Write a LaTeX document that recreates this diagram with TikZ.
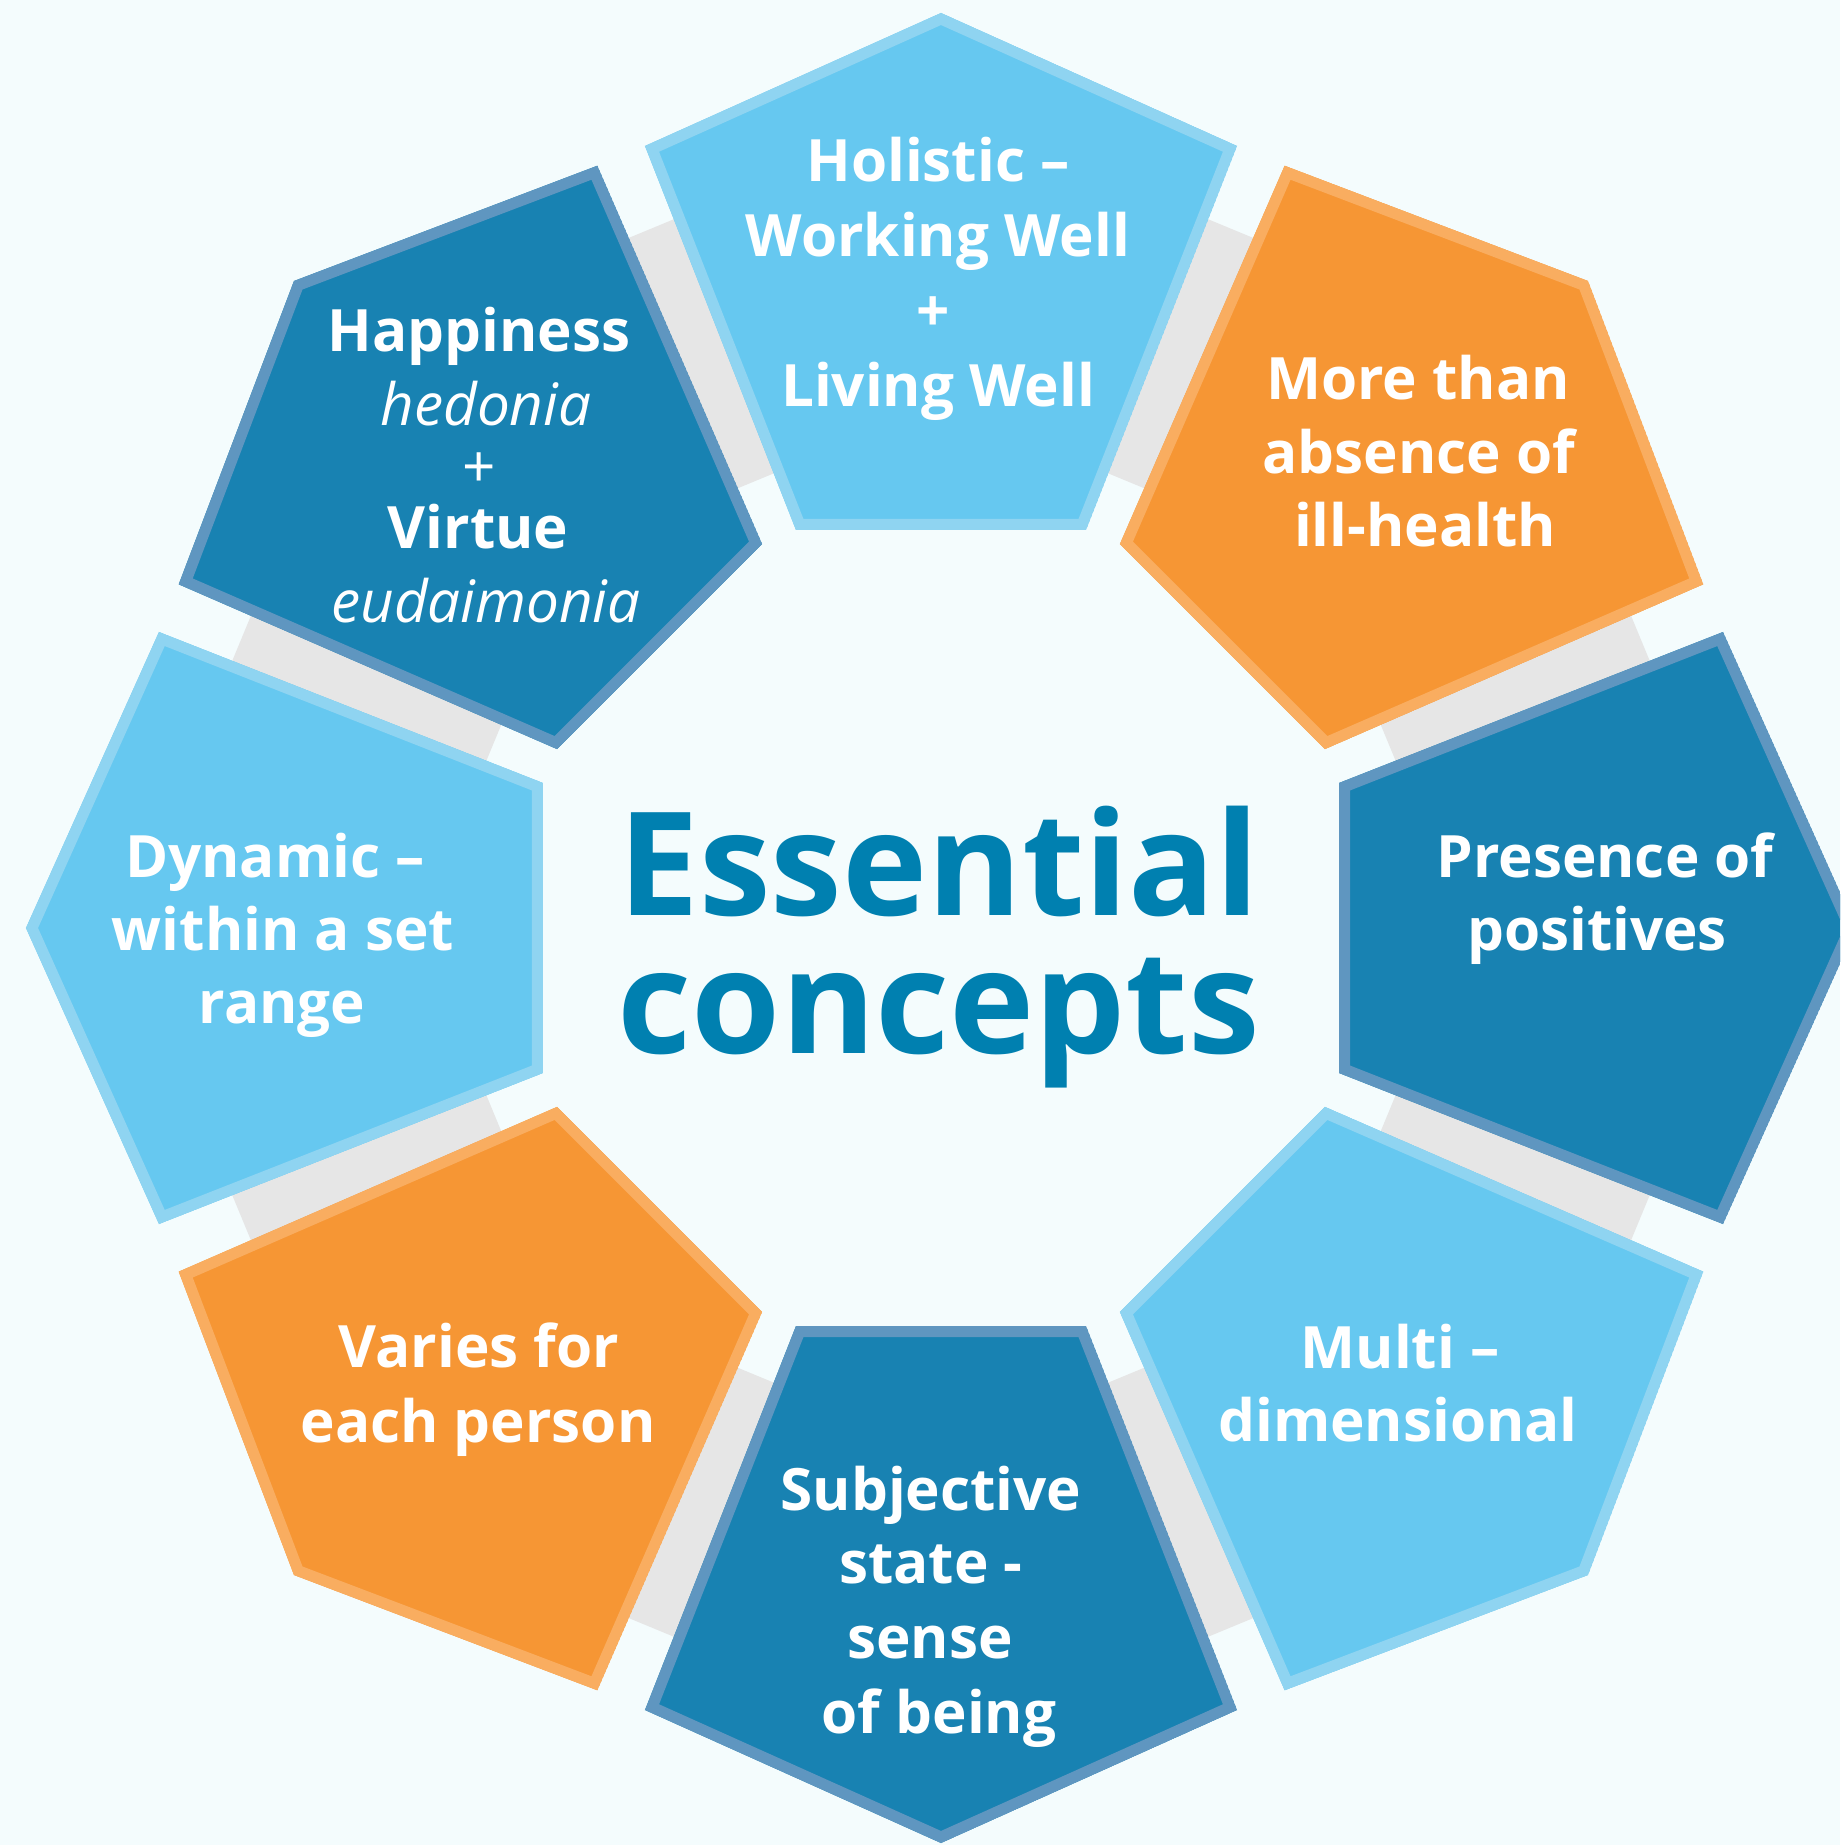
\documentclass[tikz,border=0pt]{standalone}
\usepackage{fontspec}
\setmainfont{Open Sans}

\definecolor{paper}{HTML}{F4FCFD}
\definecolor{ringgrey}{HTML}{E6E6E6}
\definecolor{skyF}{HTML}{66C8F0}
\definecolor{skyE}{HTML}{8FD4F1}
\definecolor{navyF}{HTML}{1882B2}
\definecolor{navyE}{HTML}{5F96C0}
\definecolor{amberF}{HTML}{F69634}
\definecolor{amberE}{HTML}{F9AD60}
\definecolor{headblue}{HTML}{0080B0}

\tikzset{
  lbl/.style={text=white, anchor=base, inner sep=0pt,
    font=\fontsize{58.4}{70}\selectfont\bfseries},
  lblit/.style={lbl, font=\fontsize{58.4}{70}\selectfont\itshape},
  lblrm/.style={lbl, font=\fontsize{58.4}{70}\selectfont},
  head/.style={text=headblue, anchor=base, inner sep=0pt,
    font=\fontsize{144}{150}\selectfont\bfseries},
  petalpath/.style={insert path={(398,-145) -- (782,-296) -- (915,0) -- (782,296) -- (398,145) -- cycle}}
}

\begin{document}
\begin{tikzpicture}[x=1pt,y=1pt]
  % canvas
  \useasboundingbox (-941,-917) rectangle (899,928);
  \clip (-941,-917) rectangle (899,928);
  \fill[paper] (-941,-917) rectangle (899,928);

  % grey octagonal ring behind the petals
  \fill[ringgrey, even odd rule]
    (0:819.4) \foreach \k in {1,...,7}{ -- (\k*45:819.4)} -- cycle
    (0:523.9) \foreach \k in {1,...,7}{ -- (\k*45:523.9)} -- cycle;

  % eight pentagonal petals, pointing outwards
  \foreach \ang/\fc/\ec in {90/skyF/skyE, 45/amberF/amberE, 0/navyF/navyE,
      -45/skyF/skyE, -90/navyF/navyE, -135/amberF/amberE, 180/skyF/skyE,
      135/navyF/navyE}{
    \begin{scope}[rotate=\ang]
      \begin{scope}
        \clip[petalpath];
        \filldraw[fill=\fc, draw=\ec, line width=22pt, line join=miter, petalpath];
      \end{scope}
    \end{scope}
  }

  % centre title
  \node[head] (ess) at (-2,13) {Essential};
  \node[head] (con) at (-2,-125) {concepts};

  % top
  \node[lbl] (hol1) at (-3,746) {Holistic –};
  \node[lbl] (hol2) at (-3,671) {Working Well};
  \node[lbl] (hol3) at (-8,596) {+};
  \node[lbl] (hol4) at (-3,521) {Living Well};

  % upper right
  \node[lbl] (mor1) at (477,528) {More than};
  \node[lbl] (mor2) at (478,454) {absence of};
  \node[lbl] (mor3) at (484,381) {ill-health};

  % right
  \node[lbl] (pos1) at (664,51) {Presence of};
  \node[lbl] (pos2) at (656,-22) {positives};

  % lower right
  \node[lbl] (mul1) at (459,-440) {Multi –};
  \node[lbl] (mul2) at (457,-513) {dimensional};

  % bottom
  \node[lbl] (sub1) at (-10,-582) {Subjective};
  \node[lbl] (sub2) at (-10,-655) {state -};
  \node[lbl] (sub3) at (-11,-730) {sense};
  \node[lbl] (sub4) at (-2,-805) {of being};

  % lower left
  \node[lbl] (var1) at (-462,-439) {Varies for};
  \node[lbl] (var2) at (-463,-514) {each person};

  % left
  \node[lbl] (dyn1) at (-666,51) {Dynamic –};
  \node[lbl] (dyn2) at (-658,-22) {within a set};
  \node[lbl] (dyn3) at (-659,-95) {range};

  % upper left
  \node[lbl] (hap1) at (-462,576) {Happiness};
  \node[lblit] (hap2) at (-455,502) {hedonia};
  \node[lblrm] (hap3) at (-462,440) {+};
  \node[lbl] (hap4) at (-463,379) {Virtue};
  \node[lblit] (hap5) at (-455,305) {eudaimonia};
\end{tikzpicture}
\end{document}
